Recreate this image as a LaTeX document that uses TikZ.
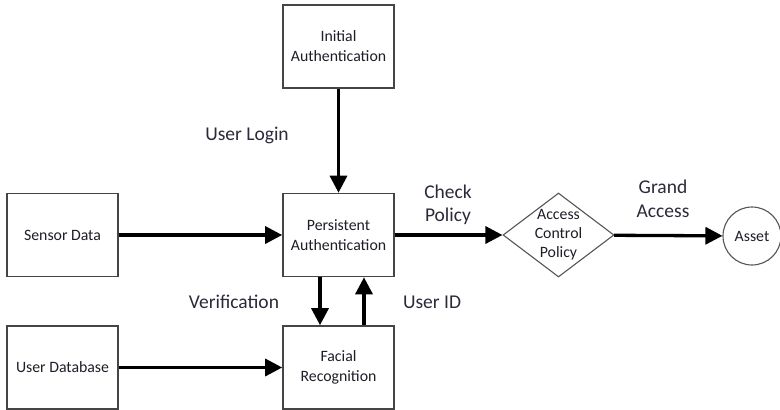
\documentclass[tikz,border=0pt]{standalone}
\usepackage{fontspec}
\setmainfont{Carlito}
\usetikzlibrary{arrows.meta,shapes.geometric,positioning}
\definecolor{boxline}{HTML}{454545}
\definecolor{thinline}{HTML}{555555}
\definecolor{boxtext}{HTML}{1E1E28}
\definecolor{lbltext}{HTML}{2A2A3A}
\tikzset{
  block/.style={draw=boxline, line width=1.6pt, fill=white, minimum width=111pt,
    minimum height=83pt, inner sep=0pt, align=center, text=boxtext,
    font=\fontsize{15.8}{20}\selectfont},
  decision/.style={diamond, draw=thinline, line width=1.1pt, minimum width=111pt,
    minimum height=84pt, inner sep=0pt, aspect=1.32},
  endpoint/.style={circle, draw=thinline, line width=1.1pt, minimum size=58pt,
    inner sep=0pt, text=boxtext, font=\fontsize{15.8}{20}\selectfont},
  flow/.style={line width=3.3pt, -{Triangle[length=17pt,width=17pt]}},
  lbl/.style={align=center, text=lbltext, font=\fontsize{19.5}{23.5}\selectfont, inner sep=0pt}
}
\begin{document}
\begin{tikzpicture}[x=1pt,y=-1pt]
\useasboundingbox (0,0) rectangle (780,410);
\fill[white] (0,0) rectangle (780,410);

% blocks
\node[block] (ia) at (338.5,46.5) {Initial\\Authentication};
\node[block] (pa) at (338.5,235) {Persistent\\Authentication};
\node[block] (sd) at (62.5,235) {Sensor Data};
\node[block] (ud) at (62.5,367.5) {User Database};
\node[block] (fr) at (338.5,367.5) {Facial\\Recognition};
\node[decision, label={[align=center, text=boxtext, inner sep=0pt,
  font=\fontsize{15.8}{19}\selectfont]center:Access\\Control\\Policy}] (acp) at (558.5,235) {};
\node[endpoint] (as) at (752,236) {Asset};

% connectors
\draw[flow] (ia) -- (pa);
\draw[flow] (sd) -- (pa);
\draw[flow] (ud) -- (fr);
\draw[flow] ([xshift=-18.5pt]pa.south) -- ([xshift=-18.5pt]fr.north);
\draw[flow] ([xshift=25.5pt]fr.north) -- ([xshift=25.5pt]pa.south);
\draw[flow] (pa) -- (acp);
\draw[flow] (acp) -- (as);

% connector labels
\node[lbl] (lLogin) at (247,135) {User Login};
\node[lbl] (lCheck) at (448,205) {Check\\Policy};
\node[lbl] (lGrand) at (663,199) {Grand\\Access};
\node[lbl] (lVerif) at (234,302) {Verification};
\node[lbl] (lUid) at (432,302) {User ID};
\end{tikzpicture}
\end{document}
